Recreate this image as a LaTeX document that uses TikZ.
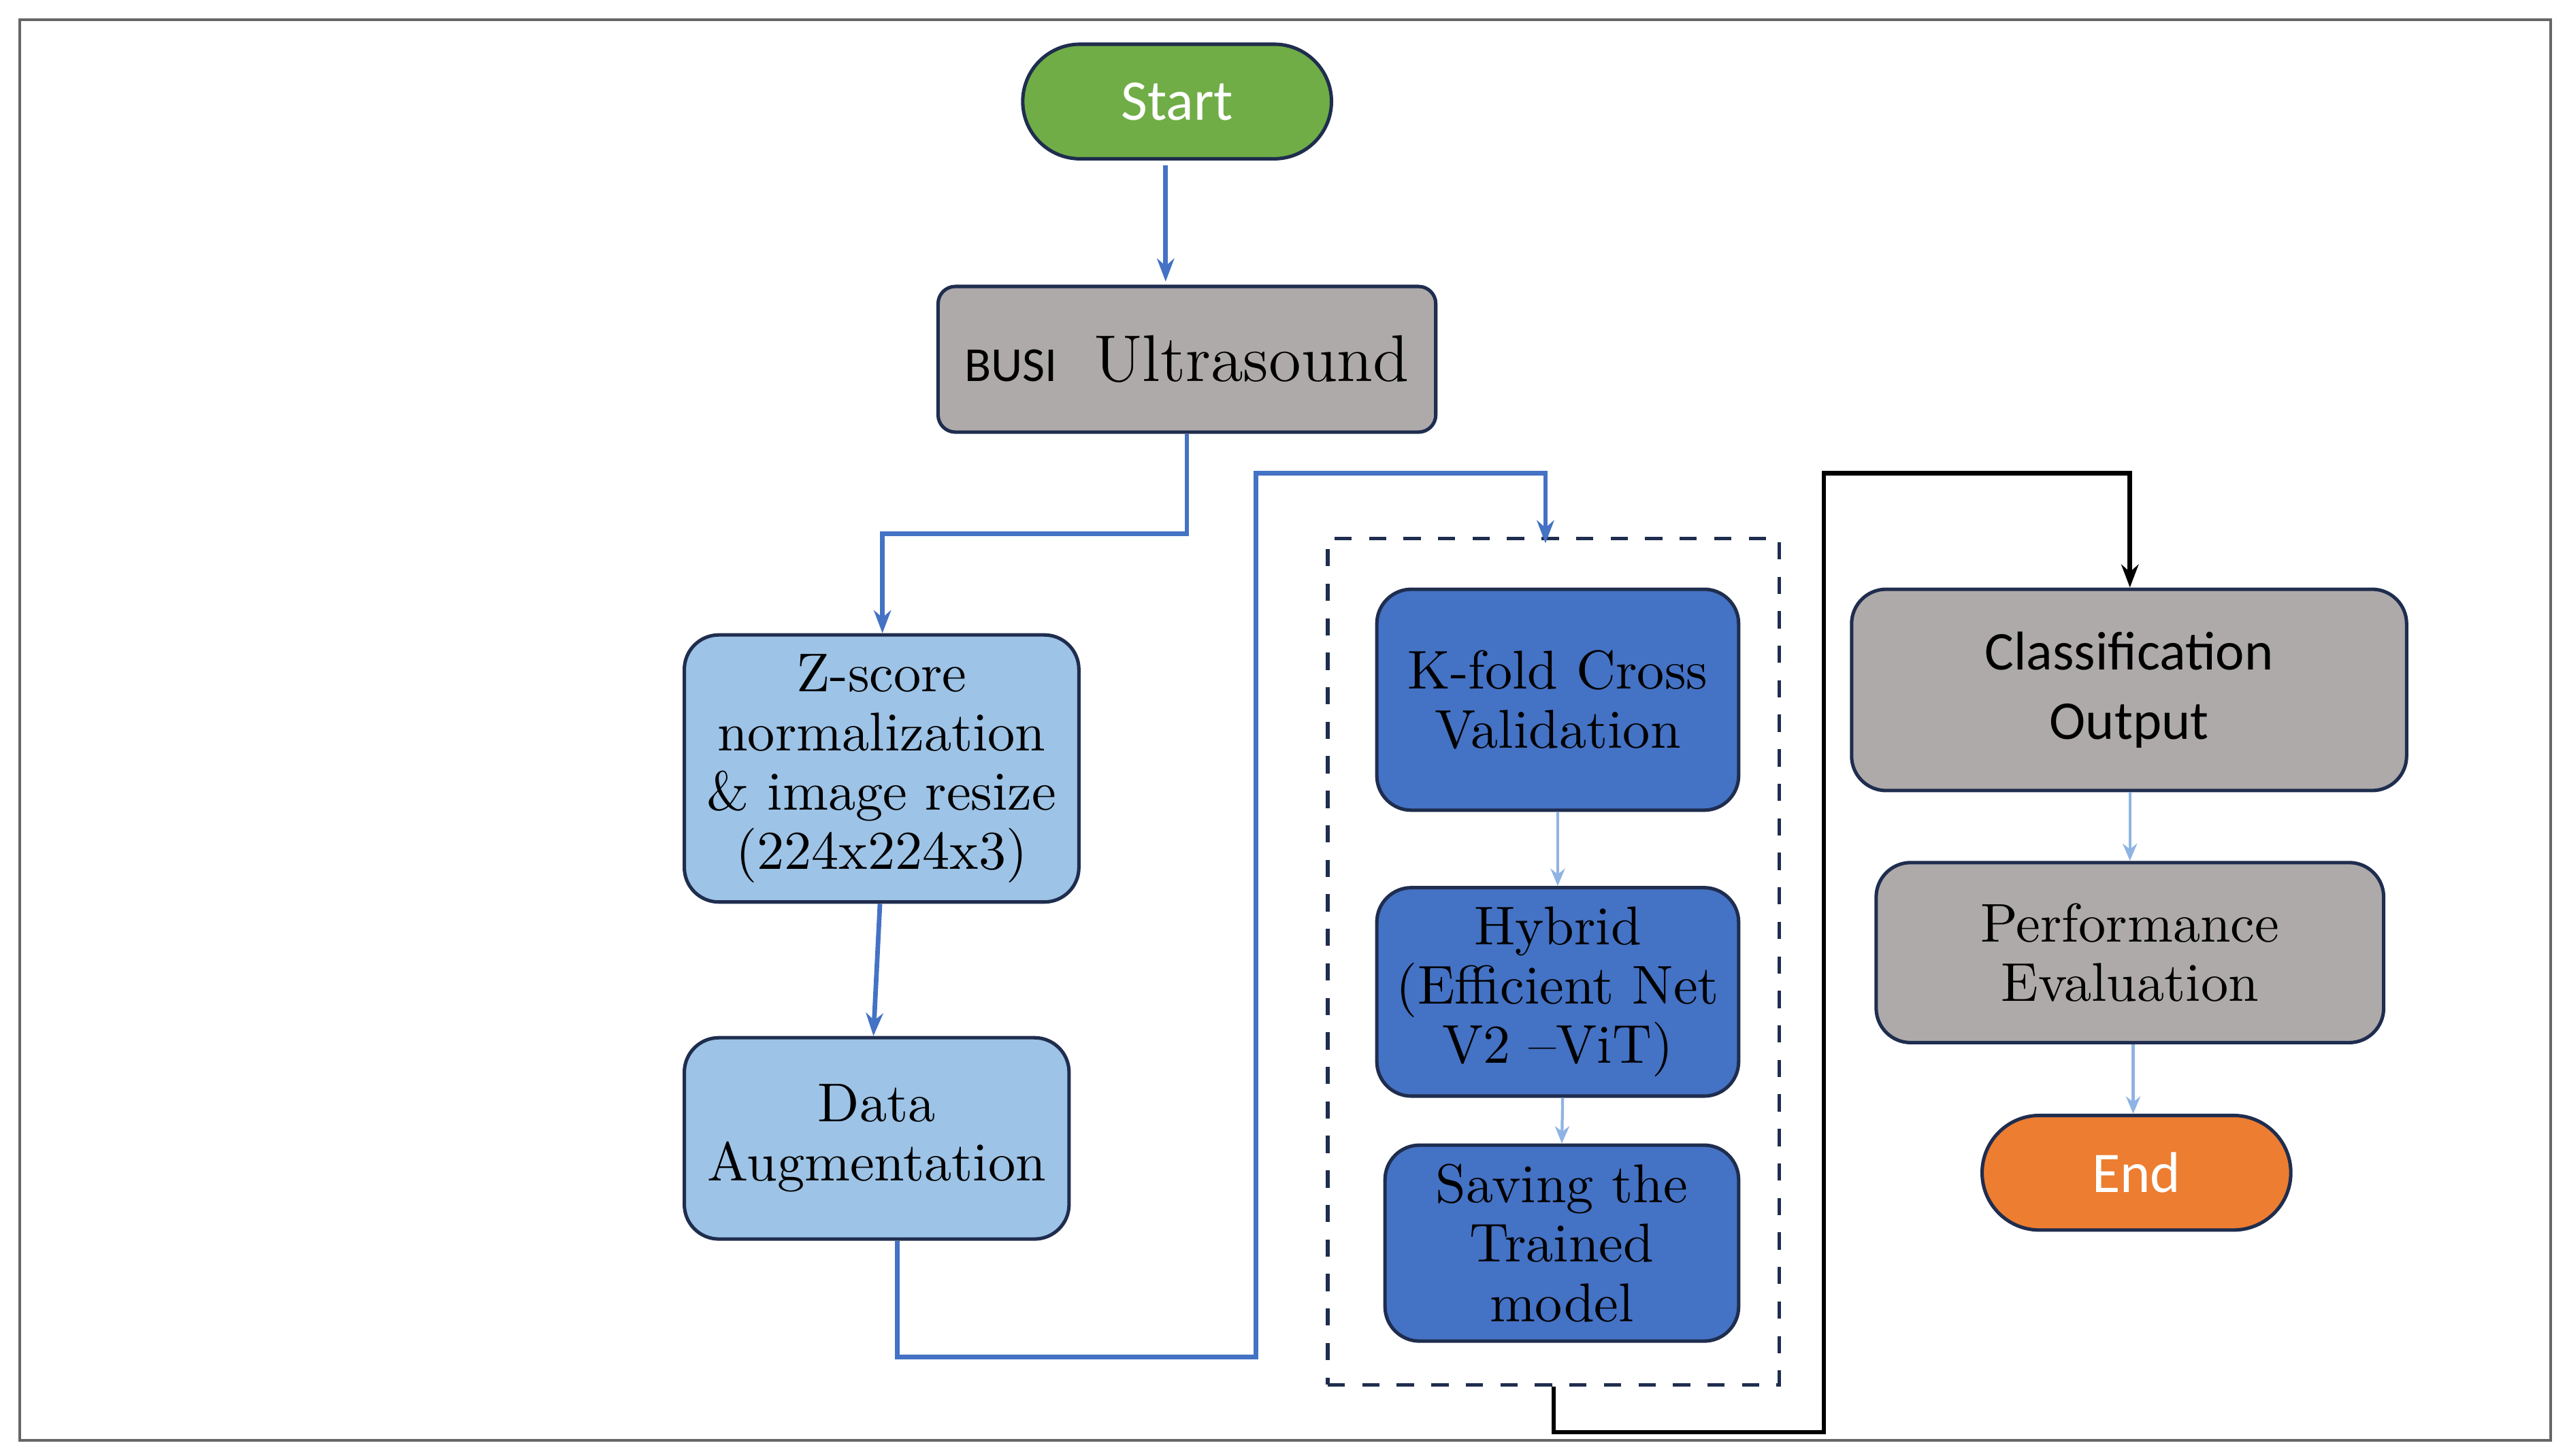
\documentclass[tikz,border=0pt]{standalone}
\usepackage{fontspec}
\setsansfont{Carlito}
\usetikzlibrary{shapes.misc,arrows.meta,positioning}
\definecolor{startgreen}{HTML}{70AD47}
\definecolor{endorange}{HTML}{ED7D31}
\definecolor{boxgray}{HTML}{AEAAAA}
\definecolor{lightblue}{HTML}{9DC3E6}
\definecolor{midblue}{HTML}{4472C4}
\definecolor{edgeblue}{HTML}{1F2D4E}
\definecolor{linkblue}{HTML}{4472C4}
\definecolor{thinblue}{HTML}{8FB4E3}
\tikzset{
  terminal/.style={rounded rectangle,draw=edgeblue,line width=0.6pt,minimum width=2.12cm,minimum height=0.7cm,text=white,font=\sffamily\fontsize{10}{12}\selectfont},
  procbox/.style={rectangle,rounded corners=6pt,draw=edgeblue,line width=0.6pt,align=center,font=\fontsize{9.5}{10.3}\selectfont},
  link/.style={draw=linkblue,line width=0.8pt,-{Stealth[length=4pt,width=3pt]}},
  thinlink/.style={draw=thinblue,line width=0.5pt,-{Stealth[length=3pt,width=2.5pt]}}
}
\begin{document}
\begin{tikzpicture}
  \useasboundingbox (0,0) rectangle (15.68,-8.892);
  \draw[gray!80!black,line width=0.5pt] (0.12,-0.12) rectangle (15.58,-8.80);
  % start and input
  \node[terminal,fill=startgreen] (start) at (7.19,-0.62) {Start};
  \node[procbox,rounded corners=3pt,fill=boxgray,minimum width=3.04cm,minimum height=0.89cm] (busi) at (7.25,-2.195)
    {{\sffamily\fontsize{8.5}{10}\selectfont BUSI}\ \ {\fontsize{11.5}{13}\selectfont Ultrasound}};
  % preprocessing
  \node[procbox,fill=lightblue,minimum width=2.41cm,minimum height=1.61cm] (zscore) at (5.385,-4.695)
    {Z-score\\normalization\\\& image resize\\(224x224x3)};
  \node[procbox,fill=lightblue,minimum width=2.35cm,minimum height=1.23cm] (augment) at (5.355,-6.955)
    {Data\\Augmentation};
  % training block
  \node[draw=edgeblue,dashed,line width=0.6pt,minimum width=2.76cm,minimum height=5.17cm] (train) at (9.49,-5.875) {};
  \node[procbox,fill=midblue,minimum width=2.21cm,minimum height=1.35cm] (kfold) at (9.515,-4.275)
    {K-fold Cross\\Validation};
  \node[procbox,fill=midblue,minimum width=2.21cm,minimum height=1.10cm] (hybrid) at (9.515,-6.06)
    {Hybrid\\(Efficient Net\\V2 --ViT)};
  \node[procbox,fill=midblue,minimum width=2.16cm,minimum height=1.13cm] (saving) at (9.54,-7.595)
    {Saving the\\Trained\\model};
  % results
  \node[procbox,fill=boxgray,font=\sffamily\fontsize{9.5}{12}\selectfont,minimum width=3.39cm,minimum height=1.23cm] (classify) at (13.005,-4.215)
    {Classification\\Output};
  \node[procbox,fill=boxgray,minimum width=3.10cm,minimum height=1.10cm] (perform) at (13.01,-5.82)
    {Performance\\Evaluation};
  \node[terminal,fill=endorange] (end) at (13.05,-7.165) {End};
  % connectors
  \coordinate (c1) at (7.25,-3.26);
  \coordinate (c2) at (5.39,-3.26);
  \coordinate (c3) at (5.48,-8.29);
  \coordinate (c4) at (7.67,-8.29);
  \coordinate (c5) at (7.67,-2.89);
  \coordinate (c6) at (9.44,-2.89);
  \coordinate (c7) at (9.49,-8.75);
  \coordinate (c8) at (11.14,-8.75);
  \coordinate (c9) at (11.14,-2.89);
  \coordinate (c10) at (13.01,-2.89);
  \draw[link] (start.south -| 7.12,0) ++(0,-0.03) -- (7.12,-1.72);
  \draw[link] (busi.south) |- (c1) -- (c2) -- (zscore.north -| c2);
  \draw[link] (zscore.south) ++(-0.01,0) -- ([xshift=-0.02cm]augment.north);
  \draw[link] (augment.south -| c3) -- (c3) -- (c4) -- (c5) -- (c6) -- ([yshift=-0.04cm]train.north -| c6);
  \draw[thinlink] (kfold.south) -- (hybrid.north);
  \draw[thinlink] ([xshift=0.03cm]hybrid.south) -- (saving.north);
  \draw[black,line width=0.8pt,-{Stealth[length=4pt,width=3pt]}] (train.south) -- (c7) -- (c8) -- (c9) -- (c10) -- (classify.north -| c10);
  \draw[thinlink] (classify.south -| c10) -- (perform.north -| c10);
  \draw[thinlink] (perform.south -| 13.03,0) -- (end.north -| 13.03,0);
\end{tikzpicture}
\end{document}
